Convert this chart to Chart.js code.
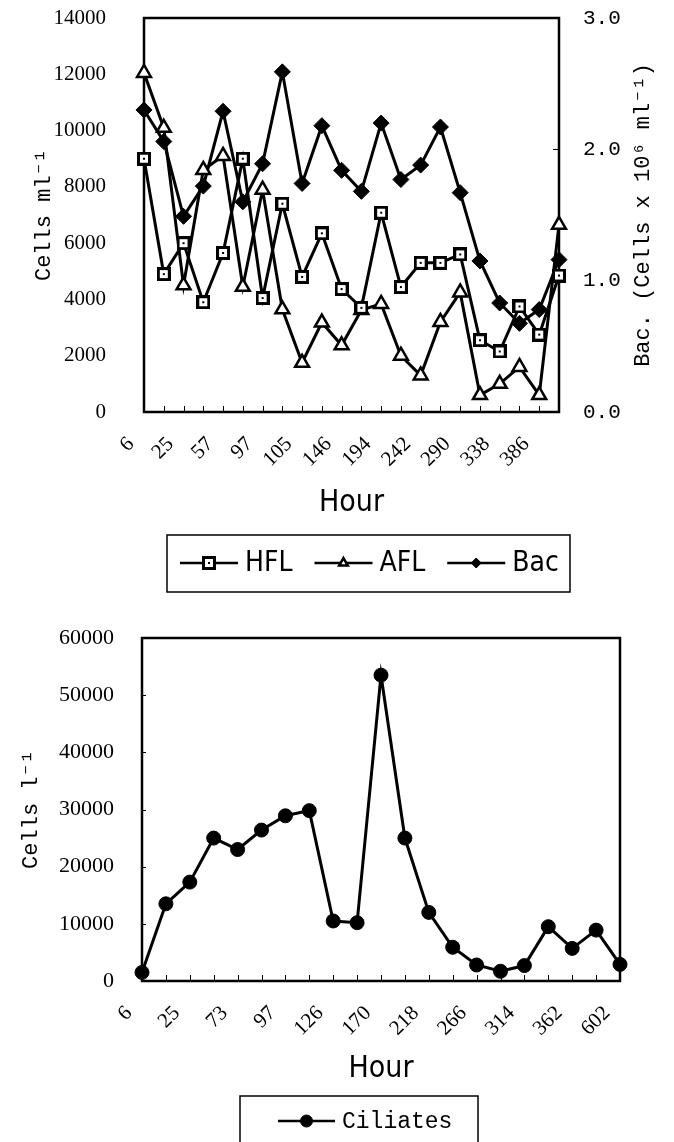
<!DOCTYPE html>
<html>
<head>
<meta charset="utf-8">
<script src="https://cdn.jsdelivr.net/npm/chart.js@4.4.1/dist/chart.umd.min.js"></script>
<style>
    html, body { margin: 0; padding: 0; background: #fff; overflow: hidden; }
    #top { position: absolute; left: 0; top: 0; width: 674px; height: 600px; }
    #bottom { position: absolute; left: 0; top: 590px; width: 674px; height: 570px; }
</style>
</head>
<body>
<div id="top"><canvas id="chartTop"></canvas></div>
<div id="bottom"><canvas id="chartBottom"></canvas></div>
<script>
// top panel: flagellates + bacteria
const hoursTop = ['6', '18', '25', '49', '57', '73', '97', '101', '105', '122', '146',
    '170', '194', '218', '242', '266', '290', '314', '338', '362', '386', '410'];
const hfl = [9000, 4900, 6000, 3900, 5650, 9000, 4050, 7400, 4800, 6350, 4370,
    3700, 7080, 4440, 5300, 5300, 5600, 2550, 2150, 3750, 2750, 4850];
const afl = [12050, 10100, 4500, 8600, 9100, 4450, 7900, 3650, 1750, 3180, 2370,
    3620, 3840, 2000, 1300, 3200, 4250, 600, 1000, 1600, 600, 6650];
const bac = [2.30, 2.06, 1.49, 1.72, 2.29, 1.60, 1.89, 2.59, 1.74, 2.18, 1.84,
    1.68, 2.20, 1.77, 1.88, 2.17, 1.67, 1.15, 0.83, 0.675, 0.78, 1.16];

// bottom panel: ciliates
const hoursBottom = ['6', '18', '25', '49', '73', '81', '97', '105', '126', '146', '170',
    '194', '218', '242', '266', '290', '314', '338', '362', '386', '602'];
const ciliates = [1500, 13500, 17300, 25000, 23000, 26400, 28900, 29800, 10500, 10200, 53500,
    25000, 12000, 5900, 2800, 1700, 2700, 9500, 5700, 8900, 2900];

const SERIF = "'Liberation Serif', 'Times New Roman', serif";
const MONO = "'Liberation Mono', 'DejaVu Sans Mono', monospace";
const NARROW = "'Liberation Sans Narrow', 'DejaVu Sans Condensed', sans-serif";

Chart.defaults.color = '#000';

function squareMark(size) {
    const c = document.createElement('canvas');
    c.width = size;
    c.height = size;
    const g = c.getContext('2d');
    g.fillStyle = '#000';
    g.fillRect(0, 0, size, size);
    g.fillStyle = '#fff';
    g.fillRect(3, 3, size - 6, size - 6);
    g.fillStyle = '#000';
    g.fillRect(size / 2 - 1, size / 2 - 1, 2, 2);
    return c;
}

// plot box + small inward tick marks
const frame = {
    id: 'frame',
    beforeDatasetsDraw(chart, args, opts) {
        const {ctx, chartArea: a, scales} = chart;
        ctx.save();
        ctx.strokeStyle = '#000';
        ctx.lineWidth = 2.5;
        ctx.strokeRect(a.left, a.top, a.right - a.left, a.bottom - a.top);
        ctx.lineWidth = 1;
        ctx.beginPath();
        scales.x.ticks.forEach((t, i) => {
            const px = Math.round(scales.x.getPixelForTick(i)) + 0.5;
            ctx.moveTo(px, a.bottom);
            ctx.lineTo(px, a.bottom - 6);
        });
        (opts.yTicks || []).forEach(id => {
            const s = scales[id];
            const edge = s.position === 'right' ? a.right : a.left;
            const dir = s.position === 'right' ? -1 : 1;
            s.ticks.forEach((t, i) => {
                const py = Math.round(s.getPixelForTick(i)) + 0.5;
                ctx.moveTo(edge, py);
                ctx.lineTo(edge + dir * opts.tick, py);
            });
        });
        ctx.stroke();
        ctx.restore();
    }
};

// boxed legend with line + marker samples
const boxLegend = {
    id: 'boxLegend',
    afterDraw(chart, args, o) {
        const ctx = chart.ctx;
        ctx.save();
        ctx.strokeStyle = '#000';
        ctx.lineWidth = 1.5;
        ctx.strokeRect(o.left, o.top, o.right - o.left, o.bottom - o.top);
        ctx.font = o.font;
        ctx.textBaseline = 'middle';
        ctx.textAlign = 'left';
        let x = o.start;
        chart.data.datasets.forEach(ds => {
            ctx.strokeStyle = '#000';
            ctx.lineWidth = 2.5;
            ctx.beginPath();
            ctx.moveTo(x, o.y);
            ctx.lineTo(x + o.symbol, o.y);
            ctx.stroke();
            ctx.fillStyle = ds.pointBackgroundColor;
            ctx.lineWidth = ds.pointBorderWidth;
            Chart.helpers.drawPoint(ctx, {
                pointStyle: ds.pointStyle,
                radius: o.mark,
                borderWidth: ds.pointBorderWidth,
                rotation: 0
            }, x + o.symbol / 2, o.y);
            ctx.fillStyle = '#000';
            ctx.fillText(ds.label, x + o.symbol + o.gap, o.y + 1);
            x += o.symbol + o.gap + ctx.measureText(ds.label).width + o.itemGap;
        });
        ctx.restore();
    }
};

// right axis title, reading bottom to top
const sideTitle = {
    id: 'sideTitle',
    afterDraw(chart, args, o) {
        if (!o.text) return;
        const {ctx, chartArea: a} = chart;
        ctx.save();
        ctx.translate(o.x, (a.top + a.bottom) / 2);
        ctx.rotate(-Math.PI / 2);
        ctx.font = o.font;
        ctx.fillStyle = '#000';
        ctx.textAlign = 'center';
        ctx.textBaseline = 'middle';
        ctx.fillText(o.text, 0, 0);
        ctx.restore();
    }
};

function everyOther(value, index) {
    return index % 2 === 0 ? this.getLabelForValue(value) : '';
}

// fixed box size; keep label padding from pushing the plot area down
function fixWidth(w) {
    return s => {
        s.width = w;
        s.paddingTop = 12;
        s.paddingBottom = 12;
    };
}

const lineStyle = {
    borderColor: '#000',
    borderWidth: 3,
    pointBorderColor: '#000',
    tension: 0,
    clip: false
};

const xTicks = {
    autoSkip: false,
    minRotation: 45,
    maxRotation: 45,
    padding: 12,
    labelOffset: -13,
    font: { family: SERIF, size: 21 },
    callback: everyOther
};

const configTop = {
    type: 'line',
    data: {
        labels: hoursTop,
        datasets: [{
            ...lineStyle,
            label: 'HFL',
            data: hfl,
            yAxisID: 'y',
            pointStyle: squareMark(14),
            pointBackgroundColor: '#fff',
            pointBorderWidth: 2
        }, {
            ...lineStyle,
            label: 'AFL',
            data: afl,
            yAxisID: 'y',
            pointStyle: 'triangle',
            pointRadius: 8,
            pointBackgroundColor: '#fff',
            pointBorderWidth: 2.5
        }, {
            ...lineStyle,
            label: 'Bac',
            data: bac,
            yAxisID: 'y1',
            pointStyle: 'rectRot',
            pointRadius: 8,
            pointBackgroundColor: '#000',
            pointBorderWidth: 1
        }]
    },
    options: {
        animation: false,
        responsive: true,
        maintainAspectRatio: false,
        layout: { padding: { top: 18, bottom: 70, left: 0, right: 0 } },
        plugins: {
            legend: { display: false },
            tooltip: { enabled: false },
            frame: { yTicks: ['y1'], tick: 6 },
            boxLegend: {
                left: 167, right: 570, top: 535, bottom: 592, y: 563,
                start: 180, symbol: 58, gap: 7, itemGap: 22, mark: 5,
                font: '28px ' + NARROW
            },
            sideTitle: { text: 'Bac. (Cells x 10⁶ ml⁻¹)', x: 643, font: '22px ' + MONO }
        },
        scales: {
            x: {
                offset: false,
                grid: { display: false },
                border: { display: false },
                ticks: xTicks,
                title: {
                    display: true,
                    text: 'Hour',
                    font: { family: NARROW, size: 30 },
                    padding: { top: 0, bottom: 9 }
                },
                afterFit(s) { s.height = 118; }
            },
            y: {
                position: 'left',
                min: 0,
                max: 14000,
                grid: { display: false },
                border: { display: false },
                ticks: {
                    stepSize: 2000,
                    padding: 30,
                    font: { family: SERIF, size: 21 },
                    callback: v => String(v)
                },
                title: {
                    display: true,
                    text: 'Cells ml⁻¹',
                    font: { family: MONO, size: 22 },
                    padding: { top: 31, bottom: 0 }
                },
                afterFit: fixWidth(144)
            },
            y1: {
                position: 'right',
                min: 0,
                max: 3,
                grid: { display: false },
                border: { display: false },
                ticks: {
                    stepSize: 1,
                    padding: 16,
                    font: { family: MONO, size: 21 },
                    callback: v => v.toFixed(1)
                },
                afterFit: fixWidth(115)
            }
        }
    },
    plugins: [frame, boxLegend, sideTitle]
};

const configBottom = {
    type: 'line',
    data: {
        labels: hoursBottom,
        datasets: [{
            ...lineStyle,
            label: 'Ciliates',
            data: ciliates,
            pointStyle: 'circle',
            pointRadius: 7,
            pointBackgroundColor: '#000',
            pointBorderWidth: 1
        }]
    },
    options: {
        animation: false,
        responsive: true,
        maintainAspectRatio: false,
        layout: { padding: { top: 48, bottom: 70, left: 0, right: 54 } },
        plugins: {
            legend: { display: false },
            tooltip: { enabled: false },
            frame: { yTicks: ['y'], tick: 4 },
            boxLegend: {
                left: 240, right: 478, top: 506, bottom: 560, y: 531,
                start: 278, symbol: 57, gap: 7, itemGap: 25, mark: 6,
                font: '23px ' + MONO
            },
            sideTitle: {}
        },
        scales: {
            x: {
                offset: false,
                grid: { display: false },
                border: { display: false },
                ticks: xTicks,
                title: {
                    display: true,
                    text: 'Hour',
                    font: { family: NARROW, size: 30 },
                    padding: { top: 0, bottom: 3 }
                },
                afterFit(s) { s.height = 109; }
            },
            y: {
                position: 'left',
                min: 0,
                max: 60000,
                grid: { display: false },
                border: { display: false },
                ticks: {
                    stepSize: 10000,
                    padding: 20,
                    font: { family: SERIF, size: 22 },
                    callback: v => String(v)
                },
                title: {
                    display: true,
                    text: 'Cells l⁻¹',
                    font: { family: MONO, size: 22 },
                    padding: { top: 18, bottom: 0 }
                },
                afterFit: fixWidth(142)
            }
        }
    },
    plugins: [frame, boxLegend, sideTitle]
};

const chartTop = new Chart(document.getElementById('chartTop'), configTop);
const chartBottom = new Chart(document.getElementById('chartBottom'), configBottom);
</script>
</body>
</html>
